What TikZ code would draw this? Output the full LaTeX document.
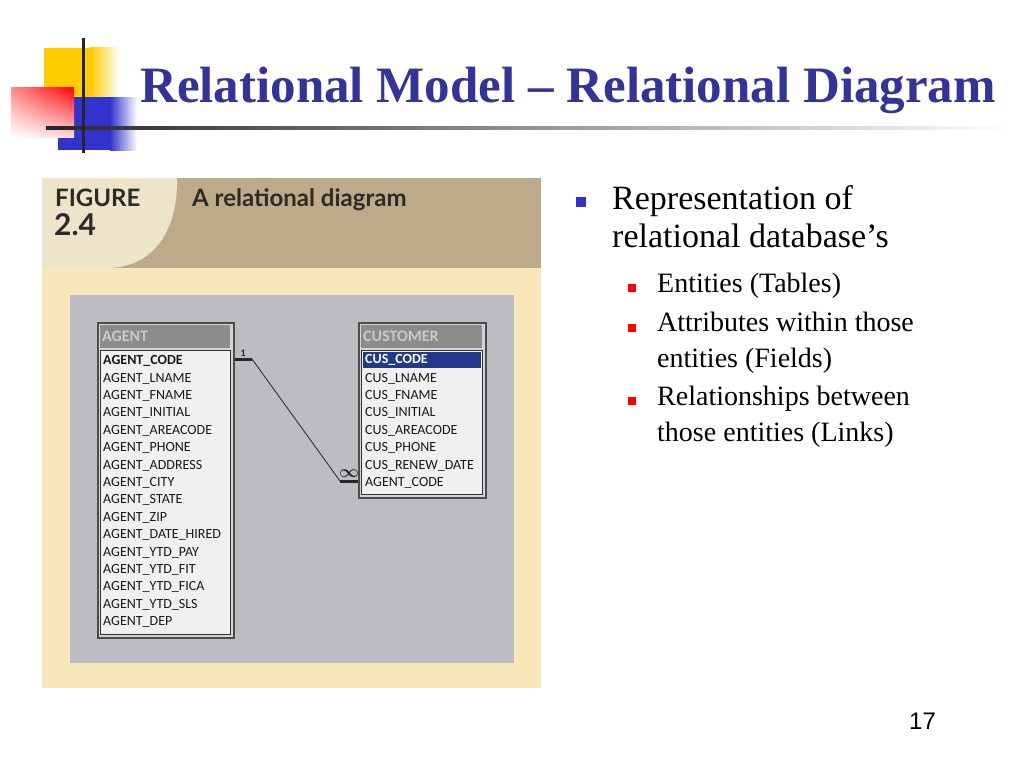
\documentclass[tikz,border=0pt]{standalone}
\usepackage{fontspec}
\usetikzlibrary{shadings}
\setmainfont{Liberation Serif}
\newfontfamily\dbfont{Carlito}
\newfontfamily\figfont{Lato}
\newfontfamily\numfont{Liberation Sans}
\definecolor{titleblue}{HTML}{333399}
\definecolor{logoyellow}{HTML}{FFCC00}
\definecolor{logoblue}{HTML}{3333CC}
\definecolor{cream}{HTML}{F8E7B9}
\definecolor{tan}{HTML}{BCAA8A}
\definecolor{lightcream}{HTML}{EEE4CA}
\definecolor{panelgray}{HTML}{BCBDC1}
\definecolor{framegray}{HTML}{D4D4D4}
\definecolor{bargray}{HTML}{8C8C8C}
\definecolor{bartext}{HTML}{CACACA}
\definecolor{listwhite}{HTML}{F0F0F0}
\definecolor{selblue}{HTML}{21388C}
\definecolor{figink}{HTML}{2E2A24}

\begin{document}
\begin{tikzpicture}[x=1pt, y=-1pt,
  field/.style={anchor=west, inner sep=0pt, text=black!90, font=\dbfont\fontsize{14}{16}\selectfont},
  keyfield/.style={field, font=\dbfont\bfseries\fontsize{14}{16}\selectfont},
  winframe/.style={anchor=north west, fill=framegray, draw=black!70, line width=1.5, inner sep=0pt},
  winbar/.style={anchor=north west, fill=bargray, text=bartext, minimum height=23, inner xsep=2, inner ysep=0, align=left, font=\dbfont\bfseries\fontsize{16}{16}\selectfont},
  winlist/.style={anchor=north west, fill=listwhite, draw=black!80, line width=1, inner sep=0pt},
  bluesq/.style={fill=logoblue, minimum size=10, inner sep=0pt},
  redsq/.style={fill=red, minimum size=8, inner sep=0pt},
  maintext/.style={anchor=base west, inner sep=0pt, align=left, font=\fontsize{34}{38.5}\selectfont},
  subtext/.style={anchor=base west, inner sep=0pt, align=left, font=\fontsize{28}{36}\selectfont},
  figtext/.style={anchor=base west, inner sep=0pt, text=figink, font=\figfont\bfseries\fontsize{24}{29}\selectfont}]
\useasboundingbox (0,0) rectangle (1024,768);
\fill[white] (0,0) rectangle (1024,768);

% logo
\fill[logoyellow] (44,48) rectangle (90,97);
\shade[left color=logoyellow, right color=white] (90,48) rectangle (120,97);
\fill[logoblue] (58,97) rectangle (110,150);
\shade[left color=logoblue, right color=white] (110,97) rectangle (137,150);
\shade[upper left=red!45!white, upper right=red, lower left=white, lower right=red!15!white] (11,87) rectangle (74,137);
\shade[left color=black!85, right color=white] (46,126.5) rectangle (1012,129.5);
\draw[line width=3, black!85] (83,38) -- (83,153);

% title
\node[anchor=base west, inner sep=0pt, text=titleblue, font=\bfseries\fontsize{51}{60}\selectfont] (title) at (140,102) {Relational Model -- Relational Diagram};

% figure panel
\fill[cream] (42,178) rectangle (541,688);
\fill[tan] (42,178) rectangle (541,268);
\fill[lightcream] (42,178) -- (177,178) .. controls (178,235) and (150,268) .. (107,268) -- (42,268) -- cycle;
\node[figtext] (fig) at (55,206) {FIGURE};
\node[figtext, font=\figfont\bfseries\fontsize{30}{30}\selectfont] (fignum) at (54,235) {2.4};
\node[figtext] (figtitle) at (192,206) {A relational diagram};
\fill[panelgray] (70,295) rectangle (514,663);

% AGENT table
\node[winframe, minimum width=136, minimum height=315] (agentwin) at (97,322) {};
\node[winbar, text width=126] (agentbar) at (100,325) {AGENT};
\node[winlist, minimum width=130, minimum height=284] (agentlist) at (100,350) {};
\node[keyfield] (agentcode) at (103,361) {AGENT\_CODE};
\node[field] (agentlname) at (103,378.4) {AGENT\_LNAME};
\node[field] (agentfname) at (103,395.8) {AGENT\_FNAME};
\node[field] (agentinitial) at (103,413.2) {AGENT\_INITIAL};
\node[field] (agentarea) at (103,430.6) {AGENT\_AREACODE};
\node[field] (agentphone) at (103,448) {AGENT\_PHONE};
\node[field] (agentaddress) at (103,465.4) {AGENT\_ADDRESS};
\node[field] (agentcity) at (103,482.8) {AGENT\_CITY};
\node[field] (agentstate) at (103,500.2) {AGENT\_STATE};
\node[field] (agentzip) at (103,517.6) {AGENT\_ZIP};
\node[field] (agenthired) at (103,535) {AGENT\_DATE\_HIRED};
\node[field] (agentpay) at (103,552.4) {AGENT\_YTD\_PAY};
\node[field] (agentfit) at (103,569.8) {AGENT\_YTD\_FIT};
\node[field] (agentfica) at (103,587.2) {AGENT\_YTD\_FICA};
\node[field] (agentsls) at (103,604.6) {AGENT\_YTD\_SLS};
\node[field] (agentdep) at (103,622) {AGENT\_DEP};

% CUSTOMER table
\node[winframe, minimum width=127, minimum height=175] (cuswin) at (358,322) {};
\node[winbar, text width=117] (cusbar) at (361,325) {CUSTOMER};
\node[winlist, minimum width=121, minimum height=144] (cuslist) at (361,350) {};
\node[keyfield, text=white, fill=selblue, anchor=north west, text width=114, inner xsep=2, minimum height=16] (cuscode) at (363,352) {CUS\_CODE};
\node[field] (cuslname) at (365,378.4) {CUS\_LNAME};
\node[field] (cusfname) at (365,395.8) {CUS\_FNAME};
\node[field] (cusinitial) at (365,413.2) {CUS\_INITIAL};
\node[field] (cusarea) at (365,430.6) {CUS\_AREACODE};
\node[field] (cusphone) at (365,448) {CUS\_PHONE};
\node[field] (cusrenew) at (365,465.4) {CUS\_RENEW\_DATE};
\node[field] (cusagent) at (365,482.8) {AGENT\_CODE};

% relationship line
\coordinate (one) at (252,359);
\coordinate (many) at (340,481);
\draw[line width=3, black!85] (agentwin.east |- one) -- node[above=1pt, inner sep=0pt, font=\dbfont\bfseries\fontsize{10}{10}\selectfont] {1} (one);
\draw[line width=0.9, black!80] (one) -- (many);
\draw[line width=3, black!85] (many) -- node[above=2pt, inner sep=0pt, font=\fontsize{16}{16}\selectfont\boldmath] {$\infty$} (cuswin.west |- many);

% bullets (base anchor sits on the last line)
\node[bluesq] (b1) at (581,202) {};
\node[maintext] (rep) at (612,247.7) {Representation of\\relational database's};
\node[redsq] (s1) at (631.5,288) {};
\node[subtext] (ent) at (657,292) {Entities (Tables)};
\node[redsq] (s2) at (631.5,328) {};
\node[subtext] (att) at (657,367.7) {Attributes within those\\entities (Fields)};
\node[redsq] (s3) at (631.5,401) {};
\node[subtext] (rel) at (657,441.7) {Relationships between\\those entities (Links)};

% page number
\node[anchor=base west, inner sep=0pt, font=\numfont\fontsize{24}{24}\selectfont] (page) at (909,729) {17};
\end{tikzpicture}
\end{document}
